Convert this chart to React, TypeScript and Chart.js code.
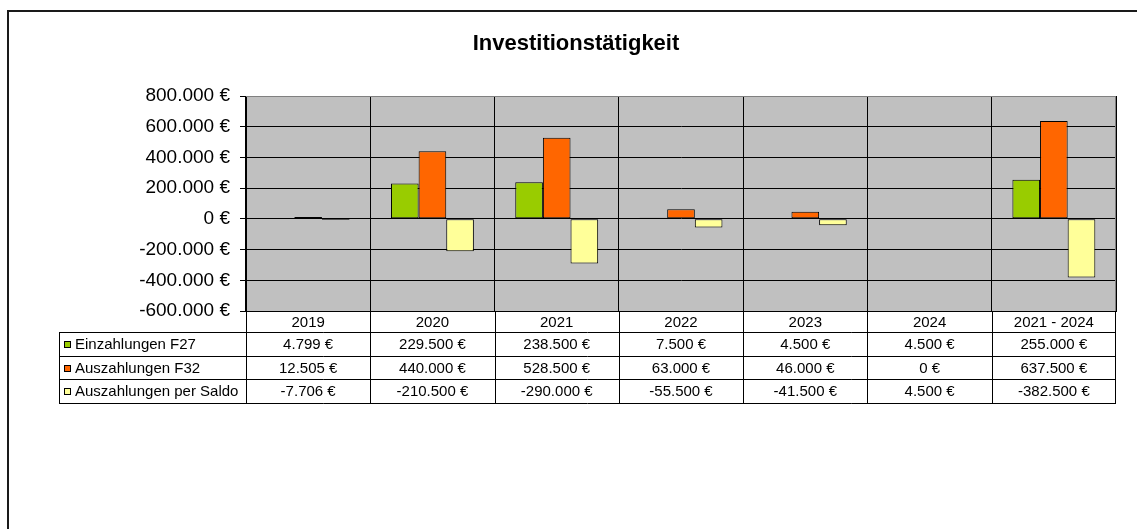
import React, { useEffect, useRef } from 'react';
import { Chart, registerables } from 'chart.js';

Chart.register(...registerables);

const titleText = 'Investitionstätigkeit';
const categories = ['2019', '2020', '2021', '2022', '2023', '2024', '2021 - 2024'];
const seriesNames = ['Einzahlungen F27', 'Auszahlungen F32', 'Auszahlungen per Saldo'];
const einzahlungen = [4799, 229500, 238500, 7500, 4500, 4500, 255000];
const auszahlungen = [12505, 440000, 528500, 63000, 46000, 0, 637500];
const saldo = [-7706, -210500, -290000, -55500, -41500, 4500, -382500];
const seriesColors = ['#99CC00', '#FF6600', '#FFFF99'];
const yMin = -600000;
const yMax = 800000;
const yStep = 200000;

const FONT = "'Liberation Sans', Arial, sans-serif";

function fmtEuro(v: number): string {
  const neg = v < 0;
  const s = Math.round(Math.abs(v)).toString().replace(/\B(?=(\d{3})+(?!\d))/g, '.');
  return (neg ? '-' : '') + s + ' €';
}

const tablePlugin = {
  id: 'excelTable',
  beforeDraw(chart: any) {
    const { ctx, chartArea: a } = chart;
    ctx.save();
    ctx.fillStyle = '#ffffff';
    ctx.fillRect(0, 0, chart.width, chart.height);
    ctx.fillStyle = '#C0C0C0';
    ctx.fillRect(a.left, a.top, a.right - a.left, a.bottom - a.top);
    ctx.restore();
  },
  afterDraw(chart: any) {
    const { ctx, chartArea: a } = chart;
    const xs = chart.scales.x;
    const n = categories.length;
    const cw = (a.right - a.left) / n;
    const rows = [einzahlungen, auszahlungen, saldo];
    const y0 = a.bottom;
    const headerH = 21;
    const rowH = 23.7;
    const legendLeft = 59;
    const tableBottom = y0 + headerH + rows.length * rowH;
    const al = (v: number) => Math.round(v) + 0.5;
    const line = (x1: number, y1: number, x2: number, y2: number) => {
      ctx.beginPath();
      ctx.moveTo(x1, y1);
      ctx.lineTo(x2, y2);
      ctx.stroke();
    };
    ctx.save();

    // outer frame
    ctx.strokeStyle = '#1a1a1a';
    ctx.lineWidth = 2;
    ctx.beginPath();
    ctx.moveTo(8, chart.height + 2);
    ctx.lineTo(8, 11);
    ctx.lineTo(chart.width + 2, 11);
    ctx.stroke();

    // title
    ctx.fillStyle = '#000';
    ctx.font = `bold 22px ${FONT}`;
    ctx.textAlign = 'center';
    ctx.textBaseline = 'middle';
    ctx.fillText(titleText, 576, 44);

    // plot border top / right
    ctx.strokeStyle = '#808080';
    ctx.lineWidth = 1;
    line(a.left, al(a.top), a.right, al(a.top));
    line(al(a.right - 1), a.top, al(a.right - 1), a.bottom);

    // table lines
    ctx.strokeStyle = '#000';
    ctx.lineWidth = 1;
    line(a.left, al(y0), a.right, al(y0));
    for (let r = 0; r <= rows.length; r++) {
      const yy = al(y0 + headerH + r * rowH);
      line(legendLeft, yy, a.right, yy);
    }
    for (let i = 0; i <= n; i++) {
      const cx = i < n ? xs.getPixelForValue(i) - cw / 2 : xs.getPixelForValue(n - 1) + cw / 2;
      const xx = al(i === n ? cx - 1 : cx);
      line(xx, y0, xx, tableBottom);
    }
    line(al(legendLeft), y0 + headerH, al(legendLeft), tableBottom);

    // header labels
    ctx.fillStyle = '#000';
    ctx.font = `15px ${FONT}`;
    ctx.textAlign = 'center';
    ctx.textBaseline = 'middle';
    for (let i = 0; i < n; i++) {
      ctx.fillText(categories[i], xs.getPixelForValue(i), y0 + headerH / 2 + 1);
    }

    // data rows
    for (let r = 0; r < rows.length; r++) {
      const cy = y0 + headerH + r * rowH + rowH / 2 + 1;
      // swatch
      ctx.fillStyle = seriesColors[r];
      ctx.fillRect(64, Math.round(cy - 4), 7, 7);
      ctx.strokeStyle = '#000';
      ctx.strokeRect(64.5, Math.round(cy - 4) + 0.5, 6, 6);
      ctx.fillStyle = '#000';
      ctx.textAlign = 'left';
      ctx.fillText(seriesNames[r], 75, cy);
      ctx.textAlign = 'center';
      for (let i = 0; i < n; i++) {
        ctx.fillText(fmtEuro(rows[r][i]), xs.getPixelForValue(i), cy);
      }
    }
    ctx.restore();
  },
};

export default function App() {
  const canvasRef = useRef<HTMLCanvasElement | null>(null);

  useEffect(() => {
    const canvas = canvasRef.current;
    if (!canvas) return;
    const chart = new Chart(canvas, {
      type: 'bar',
      data: {
        labels: categories,
        datasets: [einzahlungen, auszahlungen, saldo].map((d, i) => ({
          label: seriesNames[i],
          data: d,
          backgroundColor: seriesColors[i],
          borderColor: '#000',
          borderWidth: 1,
          borderSkipped: false,
          categoryPercentage: 0.667,
          barPercentage: 1,
        })),
      },
      options: {
        responsive: false,
        animation: false,
        devicePixelRatio: 1,
        layout: { padding: { top: 96, right: 21, bottom: 0, left: 0 } },
        plugins: {
          legend: { display: false },
          tooltip: { enabled: false },
          title: { display: false },
        },
        scales: {
          x: {
            grid: { color: '#000', offset: true, drawTicks: false, lineWidth: 1 },
            border: { color: '#000' },
            ticks: { display: false },
            afterFit: (s: any) => {
              s.height = 218;
            },
          },
          y: {
            min: yMin,
            max: yMax,
            ticks: {
              stepSize: yStep,
              callback: (v: any) => fmtEuro(Number(v)),
              font: { size: 19, family: FONT },
              color: '#000',
              padding: 10,
            },
            grid: { color: '#000', tickLength: 6, lineWidth: 1 },
            border: { color: '#000' },
            afterFit: (s: any) => {
              s.width = 246;
            },
          },
        },
      },
      plugins: [tablePlugin],
    } as any);
    return () => chart.destroy();
  }, []);

  return (
    <div style={{ position: 'fixed', left: 0, top: 0, width: 1137, height: 529, background: '#fff' }}>
      <canvas ref={canvasRef} width={1137} height={529} style={{ display: 'block' }} />
    </div>
  );
}
